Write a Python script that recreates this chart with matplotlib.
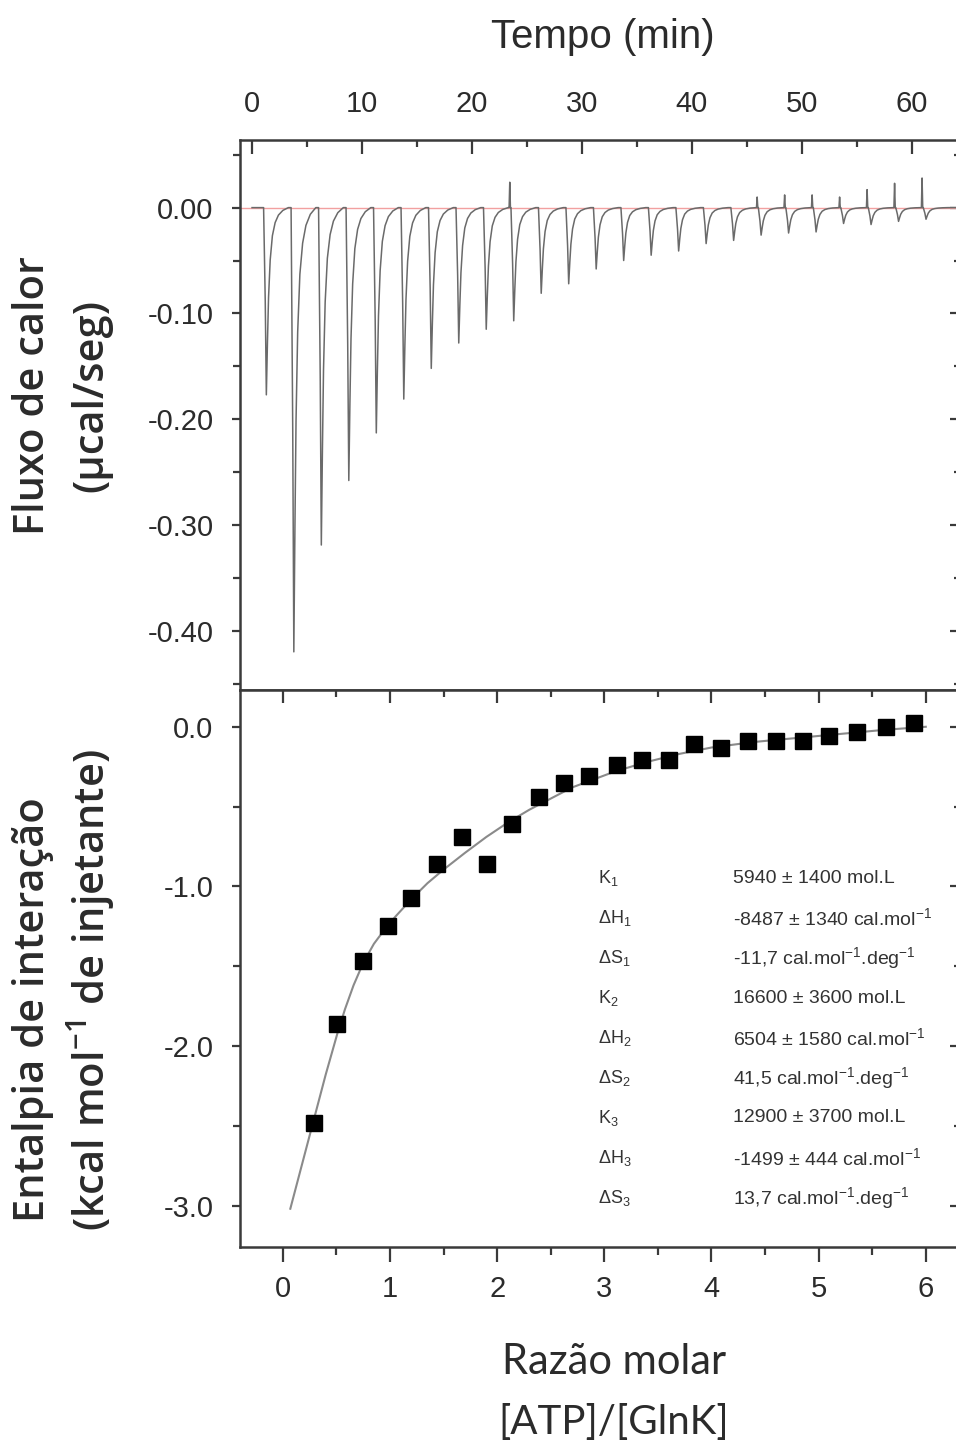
import matplotlib
matplotlib.use('Agg')
import matplotlib.pyplot as plt
from matplotlib.ticker import MultipleLocator, NullFormatter

plt.rcParams['axes.unicode_minus'] = False
plt.rcParams['font.family'] = ['Liberation Sans', 'DejaVu Sans']

# thermogram: injection times (min), peak depths (ucal/s), small upward spikes
inj_time = [1.3, 3.8, 6.3, 8.8, 11.3, 13.8, 16.3, 18.8, 21.3, 23.8, 26.3, 28.8, 31.3,
            33.8, 36.3, 38.8, 41.3, 43.8, 46.3, 48.8, 51.3, 53.8, 56.3, 58.8, 61.3]
peak_depth = [0.177, 0.420, 0.319, 0.258, 0.213, 0.181, 0.152, 0.128, 0.115, 0.107, 0.081,
              0.072, 0.058, 0.050, 0.045, 0.041, 0.034, 0.031, 0.026, 0.024, 0.023, 0.015,
              0.016, 0.013, 0.011]
spike_height = [0, 0, 0, 0, 0, 0, 0, 0, 0, 0.024, 0, 0, 0, 0, 0, 0, 0, 0,
                0.010, 0.012, 0.012, 0.010, 0.017, 0.023, 0.028]

# shape of one injection peak (time offset, fraction of depth)
peak_dt = [-0.25, -0.1, 0.0, 0.1, 0.2, 0.35, 0.55, 0.8, 1.1, 1.5, 2.0]
peak_frac = [0.0, 0.5, 1.0, 0.72, 0.48, 0.28, 0.15, 0.08, 0.04, 0.015, 0.0]

# integrated heats vs molar ratio
ratio = [0.29, 0.51, 0.75, 0.98, 1.20, 1.44, 1.67, 1.91, 2.14, 2.39, 2.62, 2.86, 3.12,
         3.35, 3.60, 3.84, 4.09, 4.34, 4.60, 4.85, 5.10, 5.36, 5.63, 5.89]
enthalpy = [-2.48, -1.86, -1.47, -1.25, -1.07, -0.86, -0.69, -0.86, -0.61, -0.44, -0.35,
            -0.31, -0.24, -0.21, -0.21, -0.11, -0.13, -0.09, -0.09, -0.09, -0.06, -0.03,
            0.00, 0.025]

# fitted curve (three sets of sites)
fit_x = [0.07, 0.18, 0.29, 0.40, 0.51, 0.58, 0.66, 0.75, 0.85, 0.95, 1.05, 1.2, 1.35,
         1.5, 1.7, 1.9, 2.1, 2.3, 2.5, 2.7, 2.9, 3.1, 3.4, 3.7, 4.0, 4.4, 4.8, 5.2,
         5.6, 6.0]
fit_y = [-3.02, -2.74, -2.46, -2.18, -1.92, -1.77, -1.62, -1.48, -1.36, -1.27, -1.19,
         -1.08, -0.98, -0.895, -0.79, -0.69, -0.60, -0.52, -0.45, -0.38, -0.33, -0.28,
         -0.22, -0.17, -0.13, -0.095, -0.07, -0.045, -0.02, 0.0]

sub = r'$\mathregular{_%s}$'
inv = r'$\mathregular{^{-1}}$'
param_names = ['K' + sub % 1, '\u0394H' + sub % 1, '\u0394S' + sub % 1,
               'K' + sub % 2, '\u0394H' + sub % 2, '\u0394S' + sub % 2,
               'K' + sub % 3, '\u0394H' + sub % 3, '\u0394S' + sub % 3]
param_values = ['5940 \u00b1 1400 mol.L',
                '-8487 \u00b1 1340 cal.mol' + inv,
                '-11,7 cal.mol' + inv + '.deg' + inv,
                '16600 \u00b1 3600 mol.L',
                '6504 \u00b1 1580 cal.mol' + inv,
                '41,5 cal.mol' + inv + '.deg' + inv,
                '12900 \u00b1 3700 mol.L',
                '-1499 \u00b1 444 cal.mol' + inv,
                '13,7 cal.mol' + inv + '.deg' + inv]

# build the raw trace from the peak list
t_trace = [0.0]
q_trace = [0.0]
for t0, d, h in zip(inj_time, peak_depth, spike_height):
    if h:
        t_trace += [t0 - 0.42, t0 - 0.36, t0 - 0.30]
        q_trace += [0.0, h, 0.0]
    for dt, f in zip(peak_dt, peak_frac):
        t_trace.append(t0 + dt)
        q_trace.append(-d * f)
t_trace.append(64.2)
q_trace.append(0.0)

txt = '#2b2b2b'
spine_c = '#3a3a3a'

fig = plt.figure(figsize=(9.56, 14.47), dpi=100)
ax1 = fig.add_axes([0.2510, 0.5232, 0.7510, 0.3801])
ax2 = fig.add_axes([0.2510, 0.1382, 0.7510, 0.3849])

for ax in (ax1, ax2):
    for s in ax.spines.values():
        s.set_linewidth(1.8)
        s.set_color(spine_c)

# --- top panel: raw heat flow
ax1.axhline(0, color='#f2a0a0', lw=1.0, zorder=1)
ax1.plot(t_trace, q_trace, color='#6a6a6a', lw=1.1, zorder=2)
ax1.set_xlim(-1.1, 64.2)
ax1.set_ylim(-0.456, 0.064)

ax1.xaxis.set_major_locator(MultipleLocator(10))
ax1.xaxis.set_minor_locator(MultipleLocator(5))
ax1.yaxis.set_major_locator(MultipleLocator(0.1))
ax1.yaxis.set_minor_locator(MultipleLocator(0.05))
ax1.yaxis.set_major_formatter(plt.FormatStrFormatter('%.2f'))
ax1.tick_params(axis='x', which='both', top=True, bottom=False, labeltop=True,
                labelbottom=False, direction='in', color=spine_c, width=1.6,
                labelsize=21, labelcolor=txt, pad=16)
ax1.tick_params(axis='x', which='major', length=10)
ax1.tick_params(axis='x', which='minor', length=5)
ax1.tick_params(axis='y', which='both', left=True, right=False, direction='out',
                color=spine_c, width=1.6, labelsize=21, labelcolor=txt, pad=13)
ax1.tick_params(axis='y', which='major', length=6)
ax1.tick_params(axis='y', which='minor', length=5)

r1 = ax1.secondary_yaxis('right')
r1.yaxis.set_major_locator(MultipleLocator(0.1))
r1.yaxis.set_minor_locator(MultipleLocator(0.05))
r1.yaxis.set_major_formatter(NullFormatter())
r1.tick_params(which='both', direction='in', color=spine_c, width=1.6)
r1.tick_params(which='major', length=6)
r1.tick_params(which='minor', length=3)

# --- bottom panel: integrated heats
ax2.plot(fit_x, fit_y, color='#8a8a8a', lw=1.5, zorder=2)
ax2.plot(ratio, enthalpy, 's', color='black', markersize=12, zorder=3)
ax2.set_xlim(-0.4, 6.3)
ax2.set_ylim(-3.26, 0.23)

ax2.xaxis.set_major_locator(MultipleLocator(1))
ax2.xaxis.set_minor_locator(MultipleLocator(0.5))
ax2.yaxis.set_major_locator(MultipleLocator(1))
ax2.yaxis.set_minor_locator(MultipleLocator(0.5))
ax2.yaxis.set_major_formatter(plt.FormatStrFormatter('%.1f'))
ax2.tick_params(axis='x', which='both', top=False, bottom=True, direction='out',
                color=spine_c, width=1.6, labelsize=21, labelcolor=txt, pad=9)
ax2.tick_params(axis='x', which='major', length=11)
ax2.tick_params(axis='x', which='minor', length=6)
ax2.tick_params(axis='y', which='both', left=True, right=False, direction='out',
                color=spine_c, width=1.6, labelsize=21, labelcolor=txt, pad=13)
ax2.tick_params(axis='y', which='major', length=6)
ax2.tick_params(axis='y', which='minor', length=5)

t2 = ax2.secondary_xaxis('top')
t2.xaxis.set_major_locator(MultipleLocator(1))
t2.xaxis.set_minor_locator(MultipleLocator(0.5))
t2.xaxis.set_major_formatter(NullFormatter())
t2.tick_params(which='both', direction='in', color=spine_c, width=1.6)
t2.tick_params(which='major', length=9)
t2.tick_params(which='minor', length=5)

r2 = ax2.secondary_yaxis('right')
r2.yaxis.set_major_locator(MultipleLocator(1))
r2.yaxis.set_minor_locator(MultipleLocator(0.5))
r2.yaxis.set_major_formatter(NullFormatter())
r2.tick_params(which='both', direction='in', color=spine_c, width=1.6)
r2.tick_params(which='major', length=6)
r2.tick_params(which='minor', length=3)

# parameter table
for i, (name, val) in enumerate(zip(param_names, param_values)):
    y = 0.6625 - i * 0.0718
    ax2.text(0.4986, y, name, transform=ax2.transAxes, fontsize=13, color='#333333',
             va='center', ha='left')
    ax2.text(0.6866, y, val, transform=ax2.transAxes, fontsize=14, color='#333333',
             va='center', ha='left')

# axis titles
fig.text(603 / 956, 1 - 37 / 1447, 'Tempo (min)', fontsize=29, color=txt,
         ha='center', va='center')
lab = dict(fontsize=30, color=txt, rotation=90, ha='center', va='center',
           family=['Open Sans', 'DejaVu Sans'], fontweight='semibold')
fig.text(33 / 956, 1 - 396 / 1447, 'Fluxo de calor', **lab)
fig.text(91 / 956, 1 - 396 / 1447, '(\u00b5cal/seg)', **lab)
fig.text(33 / 956, 1 - 1010 / 1447, 'Entalpia de intera\u00e7\u00e3o', **lab)
fig.text(91 / 956, 1 - 990 / 1447, '(kcal mol' + inv + ' de injetante)', **lab)
fig.text(614 / 956, 1 - 1362 / 1447, 'Raz\u00e3o molar', fontsize=30, color=txt,
         ha='center', va='center', family=['Lato', 'DejaVu Sans'])
fig.text(614 / 956, 1 - 1422 / 1447, '[ATP]/[GlnK]', fontsize=29, color=txt,
         ha='center', va='center', family=['Lato', 'DejaVu Sans'])

fig.savefig('out.png', dpi=100, facecolor='white')
